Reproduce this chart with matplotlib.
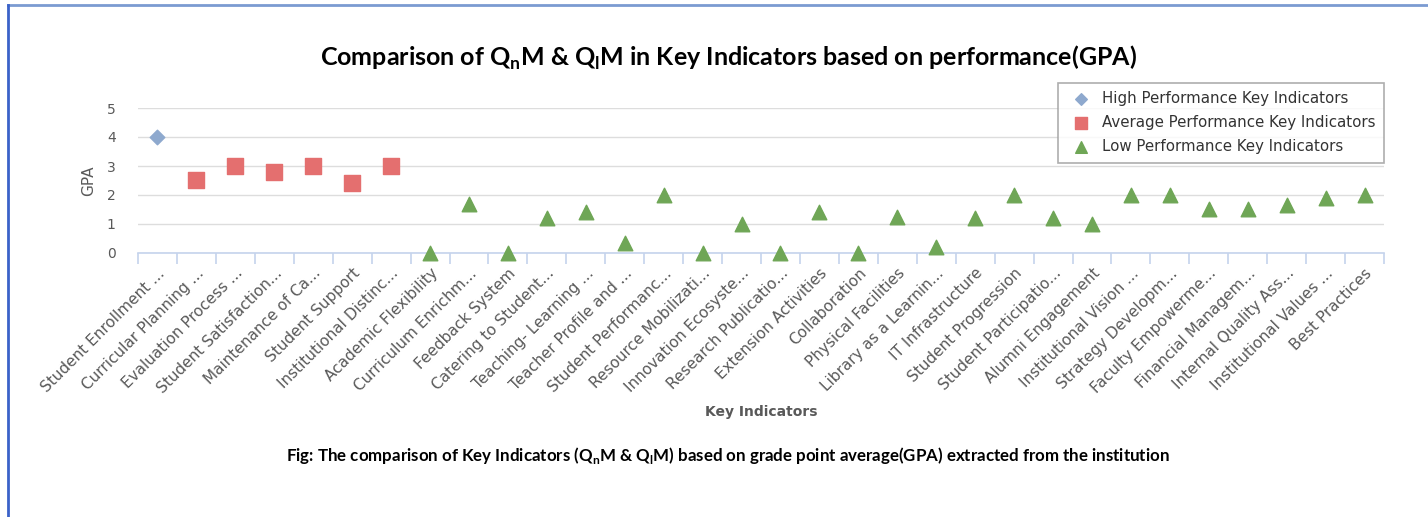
import matplotlib
matplotlib.use('Agg')
import matplotlib.pyplot as plt
from matplotlib.lines import Line2D
from matplotlib.ticker import FixedLocator

# key indicators, in chart order
indicators = [
    'Student Enrollment ...', 'Curricular Planning ...', 'Evaluation Process ...',
    'Student Satisfaction...', 'Maintenance of Ca...', 'Student Support',
    'Institutional Distinc...', 'Academic Flexibility', 'Curriculum Enrichm...',
    'Feedback System', 'Catering to Student...', 'Teaching- Learning ...',
    'Teacher Profile and ...', 'Student Performanc...', 'Resource Mobilizati...',
    'Innovation Ecosyste...', 'Research Publicatio...', 'Extension Activities',
    'Collaboration', 'Physical Facilities', 'Library as a Learnin...',
    'IT Infrastructure', 'Student Progression', 'Student Participatio...',
    'Alumni Engagement', 'Institutional Vision ...', 'Strategy Developm...',
    'Faculty Empowerme...', 'Financial Managem...', 'Internal Quality Ass...',
    'Institutional Values ...', 'Best Practices',
]

high_idx = [0]
high_gpa = [4.0]

avg_idx = [1, 2, 3, 4, 5, 6]
avg_gpa = [2.5, 3.0, 2.8, 3.0, 2.4, 3.0]

low_idx = list(range(7, 32))
low_gpa = [0, 1.7, 0, 1.2, 1.4, 0.33, 2.0, 0, 1.0, 0, 1.4, 0, 1.25, 0.2,
           1.2, 2.0, 1.2, 1.0, 2.0, 2.0, 1.5, 1.5, 1.67, 1.9, 2.0]

W, H = 1428, 517
fig = plt.figure(figsize=(W / 100, H / 100), dpi=100)
ax = fig.add_axes([138 / W, 1 - 253 / H, (1384 - 138) / W, (253 - 108) / H])

ax.scatter(high_idx, high_gpa, marker='D', s=55, color='#8EA9CE',
           label='High Performance Key Indicators', zorder=3, clip_on=False)
ax.scatter(avg_idx, avg_gpa, marker='s', s=130, color='#E46F6F',
           label='Average Performance Key Indicators', zorder=3, clip_on=False)
ax.scatter(low_idx, low_gpa, marker='^', s=110, color='#6FA656',
           label='Low Performance Key Indicators', zorder=3, clip_on=False)

ax.set_xlim(-0.5, len(indicators) - 0.5)
ax.set_ylim(0, 5)
ax.set_yticks(range(0, 6))
ax.grid(axis='y', color='#DDDDDD', linewidth=1)
ax.set_axisbelow(True)

for s in ['top', 'right', 'left']:
    ax.spines[s].set_visible(False)
ax.spines['bottom'].set_color('#C5D3EC')
ax.spines['bottom'].set_linewidth(1.2)

ax.set_xticks(range(len(indicators)))
ax.set_xticklabels(indicators, rotation=45, ha='right', va='top',
                   rotation_mode='anchor', fontsize=11, color='#595959')
ax.xaxis.set_minor_locator(FixedLocator([i - 0.5 for i in range(len(indicators) + 1)]))
ax.tick_params(axis='x', which='major', length=0, pad=9)
ax.tick_params(axis='x', which='minor', length=8, color='#C5D3EC', width=1.2)
ax.tick_params(axis='y', length=0, labelsize=10, labelcolor='#595959', pad=16)

ax.set_ylabel('GPA', fontsize=11, color='#595959', labelpad=8)
ax.text(0.5, -1.10, 'Key Indicators', transform=ax.transAxes, ha='center',
        va='center', fontsize=10, fontweight='bold', color='#595959')

fig.text(728 / W, 1 - 58 / H,
         r'Comparison of Q$_\mathregular{n}$M & Q$_\mathregular{l}$M in Key Indicators based on performance(GPA)',
         ha='center', va='center', fontsize=18, family='Lato', fontweight='bold',
         color='black')
fig.text(728 / W, 1 - 455 / H,
         r'Fig: The comparison of Key Indicators (Q$_\mathregular{n}$M & Q$_\mathregular{l}$M) based on grade point average(GPA) extracted from the institution',
         ha='center', va='center', fontsize=12.2, family='Lato', fontweight='bold',
         color='black')

leg = ax.legend(loc='upper left', bbox_to_anchor=(1058 / W, 1 - 83 / H),
                bbox_transform=fig.transFigure, fontsize=10.8, frameon=True,
                fancybox=False, edgecolor='#9A9A9A', handletextpad=0.4,
                borderpad=0.55, labelspacing=0.6, markerscale=0.8,
                borderaxespad=0)
leg.get_frame().set_linewidth(1.2)
for t in leg.get_texts():
    t.set_color('#333333')

# outer frame lines
fig.add_artist(Line2D([8 / W, 1], [1 - 5 / H, 1 - 5 / H], color='#7B9BD1', linewidth=2))
fig.add_artist(Line2D([8 / W, 8 / W], [0, 1 - 5 / H], color='#3B62C9', linewidth=2))

fig.savefig('out.png', dpi=100)
